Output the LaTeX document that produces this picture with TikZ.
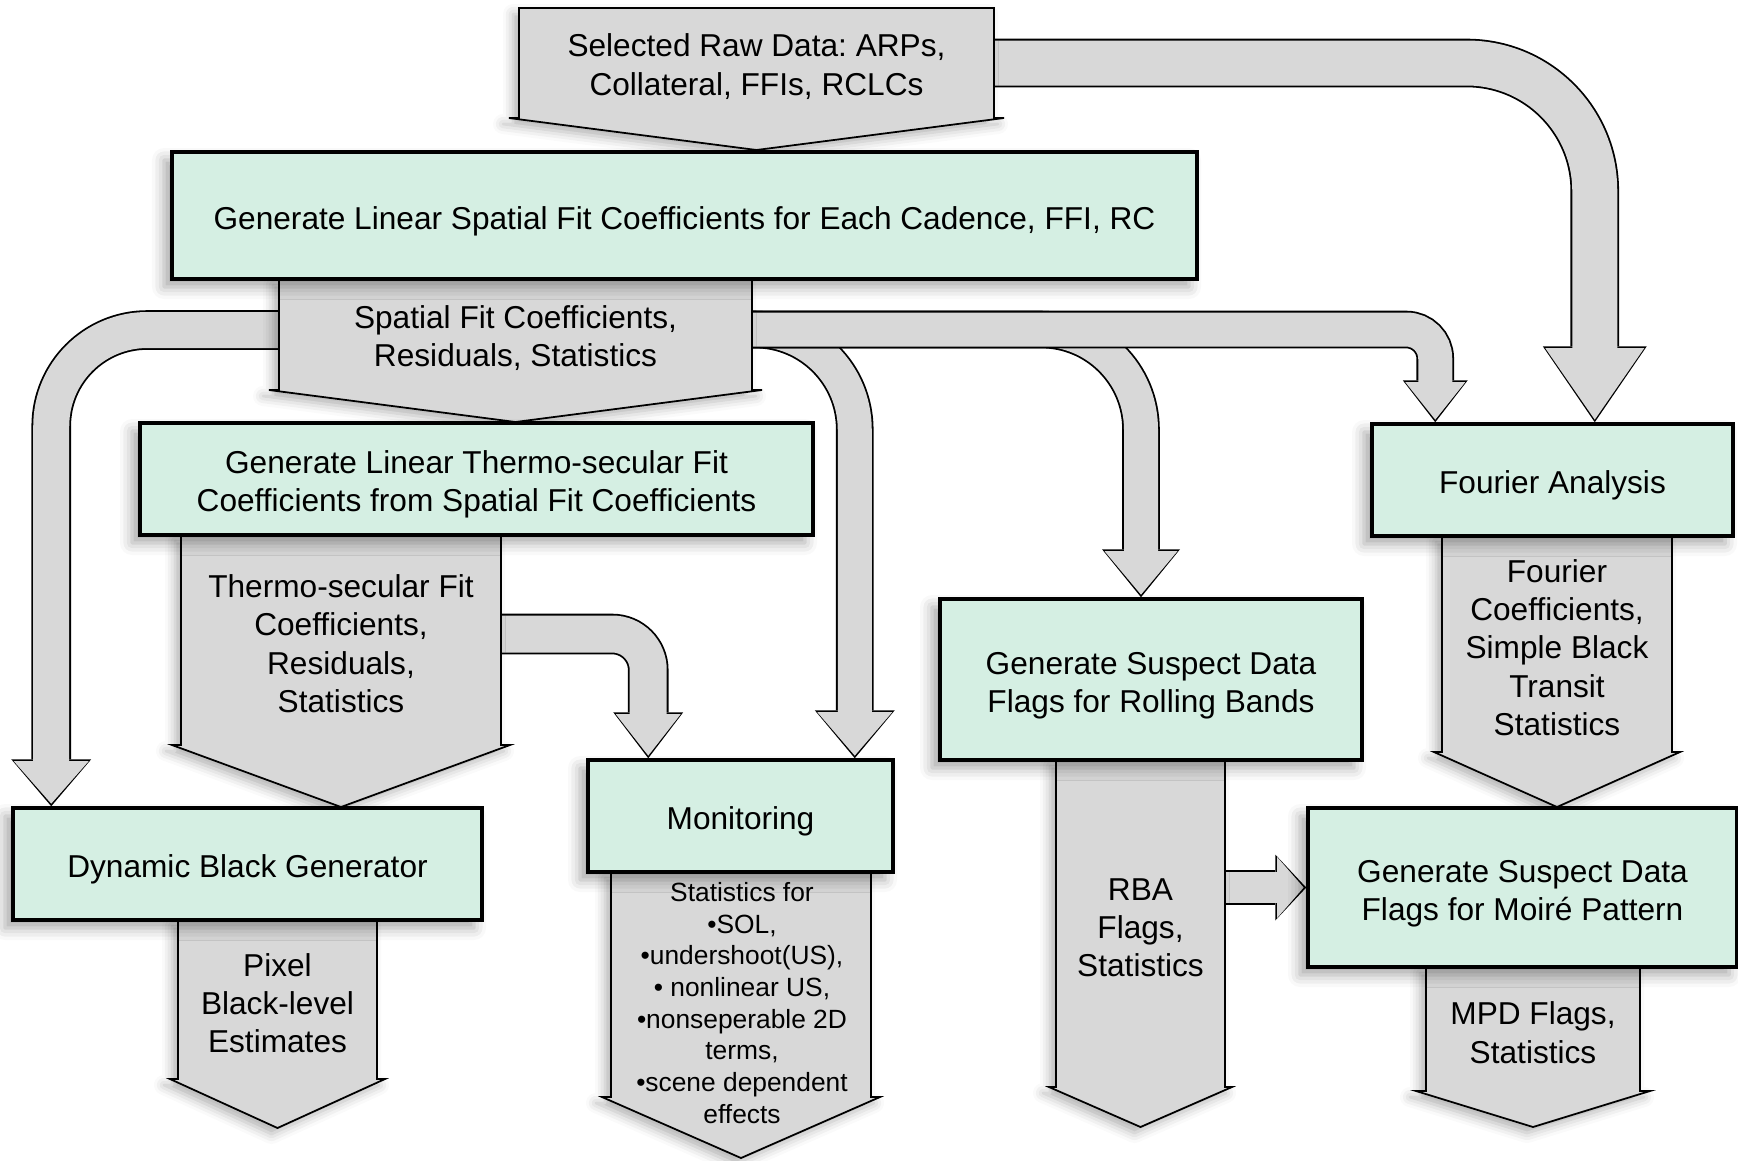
\documentclass[tikz,border=0pt]{standalone}
\usepackage{fontspec}
\setmainfont{Liberation Sans}
\frenchspacing
\usepackage{tikz}
\usetikzlibrary{arrows.meta, calc}
\usetikzlibrary{backgrounds, shadows.blur}
\definecolor{stagegreen}{RGB}{213,239,227}
\definecolor{calloutgray}{RGB}{216,216,216}
\newcommand{\stagelift}{\rule{0pt}{9.8pt}}
\newcommand{\calloutlift}{\rule{0pt}{8.6pt}}

\begin{document}
\begin{tikzpicture}[x=1mm, y=-1mm,
		stage/.style={
			draw,
			line width=1pt,
			fill=stagegreen,
			align=center,
			inner sep=1mm,
			font=\fontsize{9}{10.8}\selectfont,
			blur shadow={shadow xshift=-0.8mm, shadow yshift=-0.8mm, shadow blur radius=1.2mm, shadow opacity=35},
		},
		callout/.style={inner sep=0pt, outer sep=0pt, align=center, font=\fontsize{9}{10.9}\selectfont},
		smalltext/.style={inner sep=0pt, align=center, font=\fontsize{7.5}{9}\selectfont},
		calloutshape/.style={draw, line width=0.5pt, fill=calloutgray,
			blur shadow={shadow xshift=-0.6mm, shadow yshift=-0.6mm, shadow blur radius=1mm, shadow opacity=30}},
		band/.code args={#1/#2/#3}{% band width / head width / head length
			\pgfmathsetlengthmacro\bandouter{#1+0.36mm}%
			\pgfmathsetlengthmacro\headwidth{#2-0.5mm}%
			\pgfmathsetlengthmacro\headlength{#3-0.45mm}%
			\pgfkeysalso{line width=#1, draw=calloutgray, shorten >=0.26mm,
				arrows={-{Triangle[length=\headlength, width=\headwidth, line width=0pt]}},
				preaction={draw=black, line width=\bandouter, shorten >=0pt,
					arrows={-{Triangle[length=#3, width=#2, line width=0pt]}}}}%
		},
	]
		\useasboundingbox (0,0) rectangle (173.8,116);
		
		% processing stages
		\node[stage, minimum width=102.5mm, minimum height=12.7mm] (spatial) at (68.45,21.55) {\stagelift Generate Linear Spatial Fit Coefficients for Each Cadence, FFI, RC};
		\node[stage, minimum width=67.3mm, minimum height=11.2mm] (thermo) at (47.65,47.9) {\stagelift Generate Linear Thermo-secular Fit\\Coefficients from Spatial Fit Coefficients};
		\node[stage, minimum width=46.9mm, minimum height=11.2mm] (dyn) at (24.75,86.4) {\stagelift Dynamic Black Generator};
		\node[stage, minimum width=30.5mm, minimum height=11.2mm] (mon) at (74.05,81.6) {\stagelift Monitoring};
		\node[stage, minimum width=42.2mm, minimum height=16.1mm] (rolling) at (115.1,67.95) {\stagelift Generate Suspect Data\\Flags for Rolling Bands};
		\node[stage, minimum width=36.1mm, minimum height=11.2mm] (fourier) at (155.25,48.0) {\stagelift Fourier Analysis};
		\node[stage, minimum width=42.9mm, minimum height=15.9mm] (moire) at (152.25,88.75) {\stagelift Generate Suspect Data\\Flags for Moiré Pattern};
		
		% data products
		\node[callout, minimum width=47.5mm, minimum height=11mm] (sel) at (75.65,6.3) {\calloutlift Selected Raw Data: ARPs,\\Collateral, FFIs, RCLCs};
		\node[callout, minimum width=47.3mm, minimum height=11.1mm] (spfc) at (51.55,33.45) {\calloutlift Spatial Fit Coefficients,\\Residuals, Statistics};
		\node[callout, minimum width=32mm, minimum height=21mm] (tsfc) at (34.1,64.0) {\calloutlift Thermo-secular Fit\\Coefficients,\\Residuals,\\Statistics};
		\node[callout, minimum width=19.9mm, minimum height=15.9mm] (pble) at (27.75,99.95) {\calloutlift Pixel\\Black-level\\Estimates};
		\node[callout, minimum width=26mm, minimum height=22.5mm] (monstats) at (74.1,98.45) {};
		\node[smalltext] (monstatstext) at (74.2,100.3) {Statistics for\\•SOL,\\•undershoot(US),\\• nonlinear US,\\•nonseperable 2D\\terms,\\•scene dependent\\effects};
		\node[callout, minimum width=16.9mm, minimum height=32.7mm] (rba) at (114.05,92.35) {\calloutlift RBA\\Flags,\\Statistics};
		\node[callout, minimum width=23mm, minimum height=21.6mm] (fcs) at (155.7,64.4) {\calloutlift Fourier\\Coefficients,\\Simple Black\\Transit\\Statistics};
		\node[callout, minimum width=21.4mm, minimum height=12.4mm] (mpd) at (153.3,102.9) {\calloutlift MPD Flags,\\Statistics};
		
		\begin{scope}[on background layer]
			% flows
			\draw[band=3.6mm/8mm/4.7mm, rounded corners=9.6mm] ($(spfc.west)+(0,-0.45)$) -| ($(dyn.north west)+(4,0)$);
			\draw[band=3.4mm/8mm/4.8mm, rounded corners=10mm] ($(spfc.east)+(0,-0.5)$) -| ($(mon.north east)+(-4,0)$);
			\draw[band=3.4mm/7.8mm/4.8mm, rounded corners=10mm] ($(spfc.east)+(0,-0.5)$) -| ($(rolling.north)+(-1,0)$);
			\draw[band=3.4mm/6.5mm/4.2mm, rounded corners=2.9mm] ($(spfc.east)+(0,-0.5)$) -| ($(fourier.north west)+(6.5,0)$);
			\draw[band=4.5mm/10.4mm/7.6mm, rounded corners=12.8mm] (sel.east) -| ($(fourier.north east)+(-14,0)$);
			\draw[band=3.7mm/7mm/4.6mm, rounded corners=3.6mm] ($(tsfc.east)+(0,-0.6)$) -| ($(mon.north west)+(6.2,0)$);
			\draw[band=3.1mm/6.6mm/3.1mm] ($(rba.east)+(0,-3.6)$) -- (moire.west);
			
			% callout outlines
			\draw[calloutshape] (sel.north west) -- (sel.north east) -- (sel.south east) -- ++(1,0) -- ($(sel.south)+(0,3.2)$) -- ($(sel.south west)+(-1,0)$) -- (sel.south west) -- cycle;
			\draw[calloutshape] (spfc.north west) -- (spfc.north east) -- (spfc.south east) -- ++(1,0) -- ($(spfc.south)+(0,3.2)$) -- ($(spfc.south west)+(-1,0)$) -- (spfc.south west) -- cycle;
			\draw[calloutshape] (tsfc.north west) -- (tsfc.north east) -- (tsfc.south east) -- ++(0.9,0) -- ($(tsfc.south)+(0,6.2)$) -- ($(tsfc.south west)+(-0.9,0)$) -- (tsfc.south west) -- cycle;
			\draw[calloutshape] (pble.north west) -- (pble.north east) -- (pble.south east) -- ++(0.8,0) -- ($(pble.south)+(0,4.9)$) -- ($(pble.south west)+(-0.8,0)$) -- (pble.south west) -- cycle;
			\draw[calloutshape] (monstats.north west) -- (monstats.north east) -- (monstats.south east) -- ++(0.9,0) -- ($(monstats.south)+(0,6.1)$) -- ($(monstats.south west)+(-0.9,0)$) -- (monstats.south west) -- cycle;
			\draw[calloutshape] (rba.north west) -- (rba.north east) -- (rba.south east) -- ++(0.7,0) -- ($(rba.south)+(0,4.0)$) -- ($(rba.south west)+(-0.7,0)$) -- (rba.south west) -- cycle;
			\draw[calloutshape] (fcs.north west) -- (fcs.north east) -- (fcs.south east) -- ++(0.8,0) -- ($(fcs.south)+(0,5.5)$) -- ($(fcs.south west)+(-0.8,0)$) -- (fcs.south west) -- cycle;
			\draw[calloutshape] (mpd.north west) -- (mpd.north east) -- (mpd.south east) -- ++(1,0) -- ($(mpd.south)+(0,3.6)$) -- ($(mpd.south west)+(-1,0)$) -- (mpd.south west) -- cycle;
		\end{scope}
	\end{tikzpicture}
\end{document}
